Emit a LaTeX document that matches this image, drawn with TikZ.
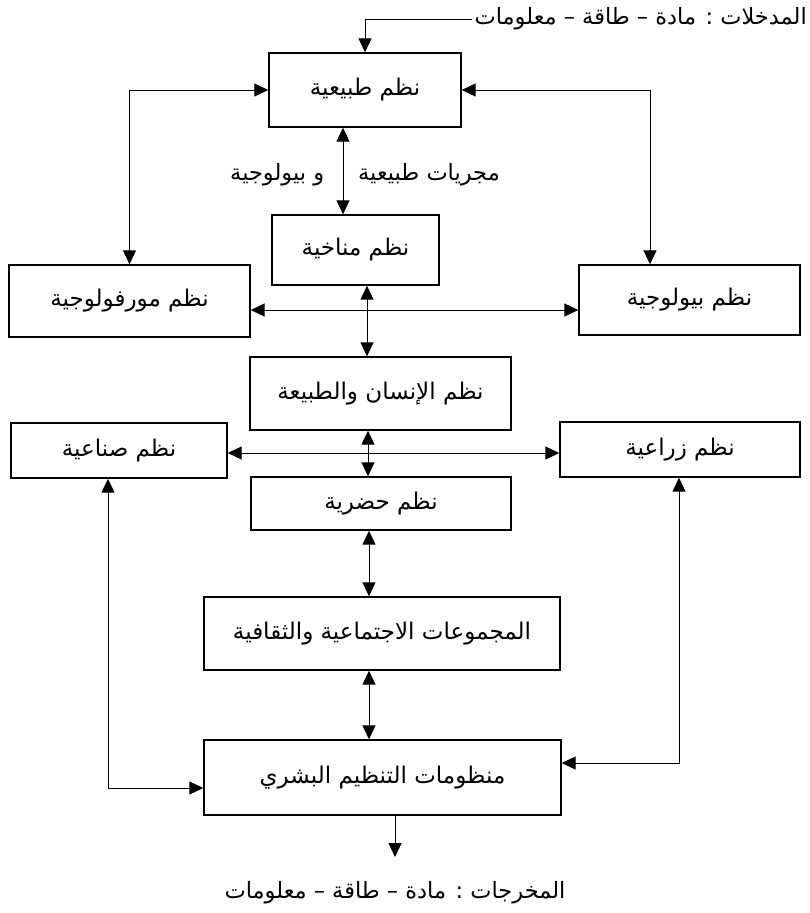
\documentclass[tikz,border=0pt]{standalone}
\usepackage{fontspec}
\usetikzlibrary{arrows.meta,positioning}
\newfontfamily\arabicfont[Script=Arabic]{DejaVu Sans}
\TeXXeTstate=1
\newcommand{\artext}[1]{{\arabicfont\beginR #1\endR}}

\begin{document}
\begin{tikzpicture}[x=1pt,y=-1pt]
      \tikzstyle{sys} = [rectangle, draw, line width=1.4pt, inner sep=0pt, font=\fontsize{23}{27}\selectfont]
      \tikzstyle{link} = [line width=1pt, >={Triangle[length=14pt,width=13pt]}]
      \tikzstyle{note} = [inner sep=2pt, font=\fontsize{22.5}{27}\selectfont]
      \useasboundingbox (0,0) rectangle (809,913);

      \node[sys, minimum width=192pt, minimum height=74pt] (tab) at (365,90) {\artext{نظم طبيعية}};
      \node[sys, minimum width=167pt, minimum height=70pt] (mun) at (355.5,250) {\artext{نظم مناخية}};
      \node[sys, minimum width=241pt, minimum height=72pt] (morph) at (129.5,301) {\artext{نظم مورفولوجية}};
      \node[sys, minimum width=221pt, minimum height=70pt] (bio) at (689.5,300) {\artext{نظم بيولوجية}};
      \node[sys, minimum width=261pt, minimum height=73pt] (insan) at (380.5,393.5) {\artext{نظم الإنسان والطبيعة}};
      \node[sys, minimum width=216pt, minimum height=55pt] (sina) at (119,450.5) {\artext{نظم صناعية}};
      \node[sys, minimum width=240pt, minimum height=55pt] (zira) at (680,449.5) {\artext{نظم زراعية}};
      \node[sys, minimum width=260pt, minimum height=53pt] (hadar) at (381,503.5) {\artext{نظم حضرية}};
      \node[sys, minimum width=356pt, minimum height=73pt] (majm) at (382,633.5) {\artext{المجموعات الاجتماعية والثقافية}};
      \node[sys, minimum width=357pt, minimum height=75pt] (manz) at (382.5,777.5) {\artext{منظومات التنظيم البشري}};

      \node[note, anchor=east] (in) at (809,19) {\artext{المدخلات : مادة – طاقة – معلومات}};
      \node[note] (out) at (395,893) {\artext{المخرجات : مادة – طاقة – معلومات}};
      \node[note] (flow) at (365,175) {\artext{مجريات طبيعية\hspace{34pt}و بيولوجية}};
      \coordinate (outend) at (395,857);

      \draw[link,->] (in.west) -| (tab.north);
      \draw[link,<->] (tab.west) -| (morph.north);
      \draw[link,<->] (tab.east) -| (650,0 |- bio.north);
      \draw[link,<->] (tab.south -| 343,0) -- (mun.north -| 343,0);
      \draw[link,<->] (morph.east |- 0,310) -- (bio.west |- 0,310);
      \draw[link,<->] (mun.south -| 367,0) -- (insan.north -| 367,0);
      \draw[link,<->] (sina.east |- 0,453) -- (zira.west |- 0,453);
      \draw[link,<->] (insan.south -| 368,0) -- (hadar.north -| 368,0);
      \draw[link,<->] (hadar.south -| 369,0) -- (majm.north -| 369,0);
      \draw[link,<->] (majm.south -| 369,0) -- (manz.north -| 369,0);
      \draw[link,<->] (sina.south -| 108,0) |- (manz.west |- 0,788);
      \draw[link,<->] (zira.south -| 679,0) |- (manz.east |- 0,763);
      \draw[link,->] (manz.south -| 395,0) -- (outend);
\end{tikzpicture}
\end{document}
